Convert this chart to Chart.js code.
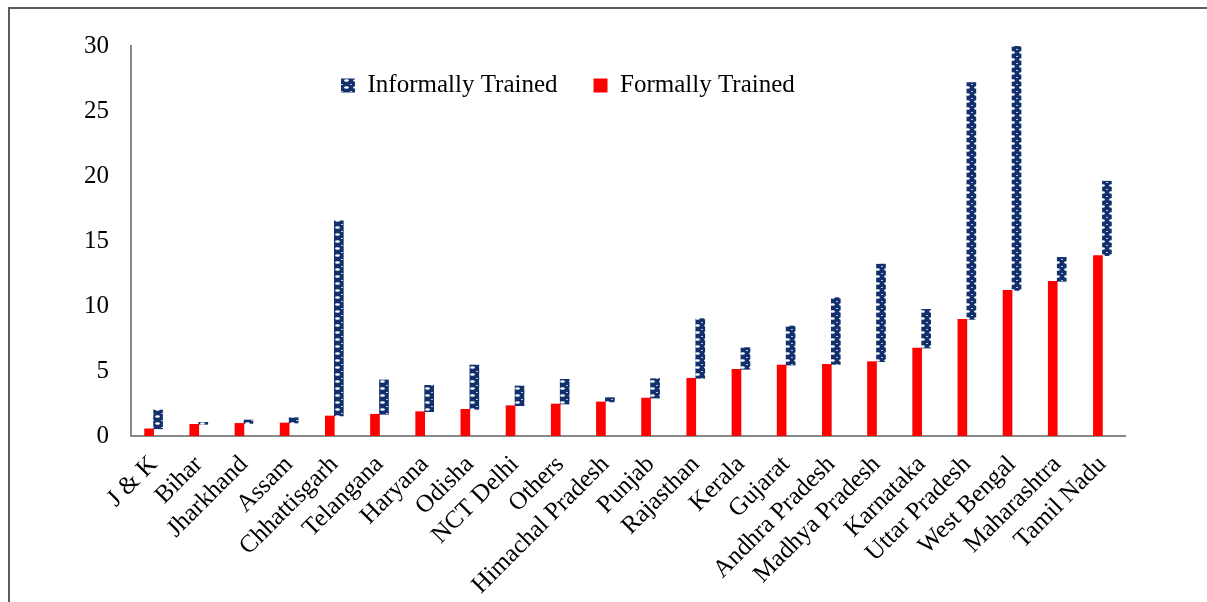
<!DOCTYPE html>
<html>
<head>
<meta charset="utf-8">
<script src="https://cdn.jsdelivr.net/npm/chart.js@4.4.0/dist/chart.umd.min.js"></script>
<style>
  html, body { margin: 0; padding: 0; background: #fff; }
  #wrap { width: 1207px; height: 602px; }
</style>
</head>
<body>
<div id="wrap"><canvas id="trainChart" width="1207" height="602"></canvas></div>
<script>
// states / UTs, sorted by formally trained share
const states = [
  "J & K", "Bihar", "Jharkhand", "Assam", "Chhattisgarh", "Telangana", "Haryana",
  "Odisha", "NCT Delhi", "Others", "Himachal Pradesh", "Punjab", "Rajasthan",
  "Kerala", "Gujarat", "Andhra Pradesh", "Madhya Pradesh", "Karnataka",
  "Uttar Pradesh", "West Bengal", "Maharashtra", "Tamil Nadu"
];
const formallyTrained = [
  0.55, 0.9, 0.97, 1.0, 1.54, 1.67, 1.87, 2.05, 2.33, 2.46, 2.62, 2.92,
  4.44, 5.13, 5.46, 5.51, 5.72, 6.77, 8.97, 11.2, 11.9, 13.87
];
const informallyTrained = [
  1.45, 0.15, 0.26, 0.41, 15.02, 2.64, 2.03, 3.41, 1.52, 1.9, 0.33, 1.49,
  4.59, 1.67, 3.0, 5.13, 7.51, 2.97, 18.21, 18.8, 1.84, 5.73
];
const yTicks = [0, 5, 10, 15, 20, 25, 30];

const fontFamily = "'Liberation Serif', 'Times New Roman', serif";

// navy fill with little white holes (like the excel pattern)
function makePattern() {
  const p = document.createElement("canvas");
  p.width = 9;
  p.height = 7;
  const c = p.getContext("2d");
  c.fillStyle = "#11306c";
  c.fillRect(0, 0, 9, 7);
  c.fillStyle = "#ffffff";
  c.beginPath();
  c.ellipse(4.5, 3.5, 2.4, 1.3, 0, 0, Math.PI * 2);
  c.fill();
  c.fillStyle = "#b9c4d8";
  c.fillRect(0, 0, 1, 1);
  c.fillRect(8, 0, 1, 1);
  return c.createPattern(p, "repeat");
}
const navyPattern = makePattern();

// informal bar floats on top of the formal value
const informalRanges = formallyTrained.map((f, i) => [f, f + informallyTrained[i]]);

// outer frame (top + left only, like the cropped figure)
const framePlugin = {
  id: "frame",
  afterDraw(chart) {
    const ctx = chart.ctx;
    ctx.save();
    ctx.strokeStyle = "#5c5c5c";
    ctx.lineWidth = 2;
    ctx.beginPath();
    ctx.moveTo(9, 602);
    ctx.lineTo(9, 8);
    ctx.lineTo(1207, 8);
    ctx.stroke();
    ctx.restore();
  },
};

// legend sits inside the plot: take no room in the layout, then move it
const legendPlace = {
  id: "legendPlace",
  afterInit(chart) {
    const lg = chart.legend;
    const fit = lg.fit;
    lg.fit = function () {
      fit.call(this);
      this.height = 0;
    };
  },
  afterLayout(chart) {
    const lg = chart.legend;
    const pad = lg.options.labels.padding;
    lg.left = 341 - pad;
    lg.right = lg.left + 1100;
    lg.top = 73 - pad;
    lg.bottom = lg.top + 120;
    lg.width = lg.right - lg.left;
    lg.height = lg.bottom - lg.top;
  },
};

new Chart(document.getElementById("trainChart"), {
  type: "bar",
  data: {
    labels: states,
    datasets: [
      {
        label: "Formally Trained",
        data: formallyTrained,
        backgroundColor: "#ff0000",
        borderWidth: 0,
        barThickness: 9,
      },
      {
        label: "Informally Trained",
        data: informalRanges,
        backgroundColor: navyPattern,
        borderWidth: 0,
        barThickness: 9,
      },
    ],
  },
  options: {
    responsive: false,
    animation: false,
    devicePixelRatio: 1,
    layout: { padding: { top: 46, left: 0, right: 82, bottom: 0 } },
    plugins: {
      tooltip: { enabled: false },
      legend: {
        position: "top",
        align: "start",
        reverse: true,
        labels: {
          color: "#000",
          font: { family: fontFamily, size: 25 },
          boxWidth: 14,
          boxHeight: 14,
          padding: 36,
        },
      },
    },
    scales: {
      x: {
        grid: { display: false, drawTicks: false },
        border: { color: "#888888", width: 2 },
        ticks: {
          color: "#000",
          font: { family: fontFamily, size: 25 },
          minRotation: 45,
          maxRotation: 45,
          autoSkip: false,
          padding: 14,
        },
        afterFit(scale) { scale.height = 166; },
      },
      y: {
        min: 0,
        max: 30,
        grid: { display: false, drawTicks: false },
        border: { color: "#888888", width: 2 },
        afterBuildTicks(scale) { scale.ticks = yTicks.map((v) => ({ value: v })); },
        ticks: {
          color: "#000",
          font: { family: fontFamily, size: 25 },
          padding: 22,
        },
        afterFit(scale) { scale.width = 131; },
      },
    },
  },
  plugins: [framePlugin, legendPlace],
});
</script>
</body>
</html>
